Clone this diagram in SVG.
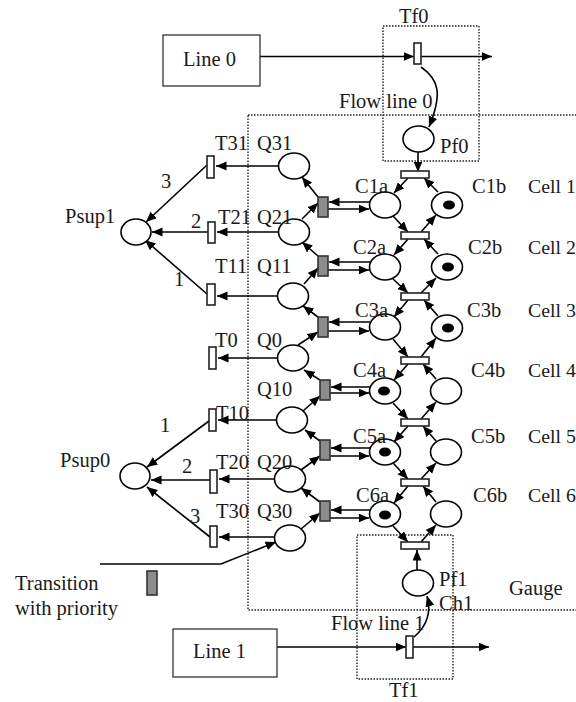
<svg xmlns="http://www.w3.org/2000/svg" width="576" height="702" viewBox="0 0 576 702">
<style>
text{font-family:"Liberation Serif","Times New Roman",serif;font-size:20.5px;fill:#1a1a1a}
text.cell{font-size:19.8px}
.p{fill:#fff;stroke:#000;stroke-width:1.6}
.t{fill:#fff;stroke:#222;stroke-width:1.6}
.g{fill:#8c8c8c;stroke:#333;stroke-width:1.6}
.b{fill:#fff;stroke:#222;stroke-width:1.2}
.d{fill:none;stroke:#222;stroke-width:1.4;stroke-dasharray:1.5 1.5}
.c path{fill:none;stroke:#000;stroke-width:1.6;marker-end:url(#a)}
.tk{fill:#000;stroke:none}
</style>
<defs><marker id="a" markerUnits="userSpaceOnUse" markerWidth="11" markerHeight="10" refX="10.500" refY="4.500" orient="auto"><path d="M0 0L10.500 4.500L0 9Z" fill="#000" stroke="none"/></marker></defs>
<g id="regions">
<rect class="d" x="383" y="26" width="96" height="135"/>
<rect class="d" x="357" y="535" width="96" height="144"/>
<rect class="d" x="248" y="115" width="340" height="495"/>
</g>
<g class="c" id="connectors">
<path d="M260 56.500H414"/><path d="M421 56.500H492"/><path d="M421 67C440 80 442 95 429 127"/><path d="M418 152V172"/>
<path d="M277 647H406"/><path d="M413 647H489"/><path d="M414 637C428 625 431 610 427 596"/><path d="M417 570V550"/>
<path d="M408 178L394 193"/><path d="M438 192L424 178"/><path d="M393 216L408 232"/><path d="M421 232L436 215"/>
<path d="M408 239L394 255"/><path d="M438 254L424 239"/><path d="M392 278L408 293"/><path d="M421 293L436 278"/>
<path d="M408 300L394 317"/><path d="M438 316L424 300"/><path d="M393 339L408 357"/><path d="M421 357L436 338"/>
<path d="M408 364L394 380"/><path d="M436 379L423 364"/><path d="M393 403L408 419"/><path d="M421 419L436 402"/>
<path d="M408 426L394 442"/><path d="M436 441L423 426"/><path d="M393 463L408 479"/><path d="M421 479L436 463"/>
<path d="M408 486L394 503"/><path d="M436 502L423 486"/><path d="M393 526L408 542"/><path d="M421 542L436 525"/>
<path d="M370 202H329"/><path d="M328 209H369"/><path d="M370 262H329"/><path d="M328 270H369"/><path d="M370 322H329"/><path d="M328 331H369"/>
<path d="M370 387H331"/><path d="M330 393H369"/><path d="M370 448H331"/><path d="M330 456H369"/><path d="M370 510H331"/><path d="M330 518H369"/>
<path d="M318 197L302 177"/><path d="M302 219L318 203"/><path d="M318 256L302 242"/><path d="M304 284L318 268"/><path d="M318 317L303 306"/><path d="M298 345L318 332"/>
<path d="M320 380L304 370"/><path d="M303 411L320 396"/><path d="M320 441L305 430"/><path d="M301 470L320 456"/><path d="M320 502L301 488"/><path d="M301 529L320 513"/>
<path d="M279 166H216"/><path d="M279 232H217"/><path d="M278 296H217"/><path d="M278 358H218"/><path d="M277 420H218"/><path d="M275 479H219"/><path d="M275 537H219"/>
<path d="M207 165L146 222"/><path d="M208 232H152"/><path d="M207 294L145 240"/>
<path d="M209 421L147 467"/><path d="M210 480H151"/><path d="M210 537L147 487"/>
<path d="M100 564H221L276 542"/>
</g>
<g id="line0"><rect class="b" x="163" y="35" width="97" height="51"/><text x="183" y="66">Line 0</text></g>
<g id="line1"><rect class="b" x="173" y="629" width="104" height="48"/><text x="193" y="658">Line 1</text></g>
<g id="Tf0"><rect class="t" x="414" y="43" width="7" height="21"/><text x="399" y="23">Tf0</text></g>
<g id="Tf1"><rect class="t" x="406" y="636" width="7" height="22"/><text x="389" y="697">Tf1</text></g>
<g id="Pf0"><ellipse class="p" cx="418.500" cy="139" rx="15.500" ry="13"/><text x="440" y="153">Pf0</text></g>
<g id="Pf1"><ellipse class="p" cx="418" cy="583" rx="15.500" ry="13"/><text x="439" y="586">Pf1</text></g>
<g id="T1"><rect class="t" x="401" y="171" width="28" height="7"/></g>
<g id="T2"><rect class="t" x="401" y="232" width="28" height="7"/></g>
<g id="T3"><rect class="t" x="401" y="293" width="28" height="7"/></g>
<g id="T4"><rect class="t" x="401" y="357" width="28" height="7"/></g>
<g id="T5"><rect class="t" x="401" y="419" width="28" height="7"/></g>
<g id="T6"><rect class="t" x="401" y="479" width="28" height="7"/></g>
<g id="T7"><rect class="t" x="401" y="542" width="28" height="7"/></g>
<g id="C1a"><ellipse class="p" cx="385" cy="205" rx="15.500" ry="13"/><text x="355" y="193">C1a</text></g>
<g id="C1b"><ellipse class="p" cx="447" cy="205" rx="15.500" ry="13"/><ellipse class="tk" cx="449" cy="205" rx="6" ry="4.500"/><text x="472" y="193">C1b</text></g>
<g id="C2a"><ellipse class="p" cx="385" cy="267" rx="15.500" ry="13"/><text x="353" y="254">C2a</text></g>
<g id="C2b"><ellipse class="p" cx="447" cy="267" rx="15.500" ry="13"/><ellipse class="tk" cx="448" cy="267" rx="6" ry="4.500"/><text x="468" y="254">C2b</text></g>
<g id="C3a"><ellipse class="p" cx="385" cy="327" rx="15.500" ry="13"/><text x="355" y="317">C3a</text></g>
<g id="C3b"><ellipse class="p" cx="447" cy="328" rx="15.500" ry="13"/><ellipse class="tk" cx="448" cy="328" rx="6" ry="4.500"/><text x="467" y="317">C3b</text></g>
<g id="C4a"><ellipse class="p" cx="385" cy="391" rx="15.500" ry="13"/><ellipse class="tk" cx="384" cy="391" rx="6" ry="4.500"/><text x="353" y="377">C4a</text></g>
<g id="C4b"><ellipse class="p" cx="446" cy="391" rx="15.500" ry="13"/><text x="471" y="377">C4b</text></g>
<g id="C5a"><ellipse class="p" cx="385" cy="452" rx="15.500" ry="13"/><ellipse class="tk" cx="385" cy="452" rx="6" ry="4.500"/><text x="353" y="443">C5a</text></g>
<g id="C5b"><ellipse class="p" cx="446" cy="452" rx="15.500" ry="13"/><text x="471" y="443">C5b</text></g>
<g id="C6a"><ellipse class="p" cx="385" cy="514" rx="15.500" ry="13"/><ellipse class="tk" cx="385" cy="515" rx="6" ry="4.500"/><text x="356" y="502">C6a</text></g>
<g id="C6b"><ellipse class="p" cx="446" cy="514" rx="15.500" ry="13"/><text x="473" y="502">C6b</text></g>
<g id="G1"><rect class="g" x="318" y="197" width="10" height="20"/></g>
<g id="G2"><rect class="g" x="318" y="256" width="10" height="20"/></g>
<g id="G3"><rect class="g" x="318" y="317" width="10" height="20"/></g>
<g id="G4"><rect class="g" x="320" y="380" width="10" height="20"/></g>
<g id="G5"><rect class="g" x="320" y="440" width="10" height="20"/></g>
<g id="G6"><rect class="g" x="320" y="501" width="10" height="20"/></g>
<g id="Q31"><ellipse class="p" cx="294" cy="166" rx="15.500" ry="13"/><text x="257" y="150">Q31</text></g>
<g id="Q21"><ellipse class="p" cx="294" cy="232" rx="15.500" ry="13"/><text x="257" y="224">Q21</text></g>
<g id="Q11"><ellipse class="p" cx="293" cy="296" rx="15.500" ry="13"/><text x="257" y="273">Q11</text></g>
<g id="Q0"><ellipse class="p" cx="293" cy="358" rx="15.500" ry="13"/><text x="257" y="347">Q0</text></g>
<g id="Q10"><ellipse class="p" cx="292" cy="420" rx="15.500" ry="13"/><text x="257" y="396">Q10</text></g>
<g id="Q20"><ellipse class="p" cx="290" cy="479" rx="15.500" ry="13"/><text x="257" y="469">Q20</text></g>
<g id="Q30"><ellipse class="p" cx="290" cy="538" rx="15.500" ry="13"/><text x="257" y="518">Q30</text></g>
<g id="T31"><rect class="t" x="207" y="156" width="7" height="22"/><text x="215" y="150">T31</text></g>
<g id="T21"><rect class="t" x="208" y="222" width="7" height="21"/><text x="218" y="224">T21</text></g>
<g id="T11"><rect class="t" x="207" y="284" width="8" height="21"/><text x="215" y="273">T11</text></g>
<g id="T0"><rect class="t" x="209" y="347" width="7" height="22"/><text x="215" y="347">T0</text></g>
<g id="T10"><rect class="t" x="209" y="409" width="7" height="22"/><text x="216" y="420">T10</text></g>
<g id="T20"><rect class="t" x="210" y="470" width="7" height="23"/><text x="216" y="469">T20</text></g>
<g id="T30"><rect class="t" x="210" y="526" width="7" height="21"/><text x="216" y="518">T30</text></g>
<g id="Psup1"><ellipse class="p" cx="136" cy="232" rx="15" ry="13"/><text x="65" y="223">Psup1</text></g>
<g id="Psup0"><ellipse class="p" cx="135" cy="476" rx="15" ry="13"/><text x="60" y="467">Psup0</text></g>
<g id="priority"><rect class="g" x="147" y="571" width="10" height="24"/></g>
<g id="labels">
<text x="161" y="188">3</text><text x="191" y="228">2</text><text x="174" y="286">1</text>
<text x="160" y="432">1</text><text x="182" y="473">2</text><text x="190" y="523">3</text>
<text x="339" y="108">Flow line 0</text><text x="331" y="630">Flow line 1</text>
<text x="439" y="610">Ch1</text><text x="509" y="595">Gauge</text>
<text x="15" y="590">Transition</text><text x="15" y="615">with priority</text>
<text class="cell" x="528" y="193">Cell 1</text><text class="cell" x="528" y="254">Cell 2</text><text class="cell" x="528" y="317">Cell 3</text>
<text class="cell" x="528" y="377">Cell 4</text><text class="cell" x="528" y="443">Cell 5</text><text class="cell" x="528" y="502">Cell 6</text>
</g>
</svg>
